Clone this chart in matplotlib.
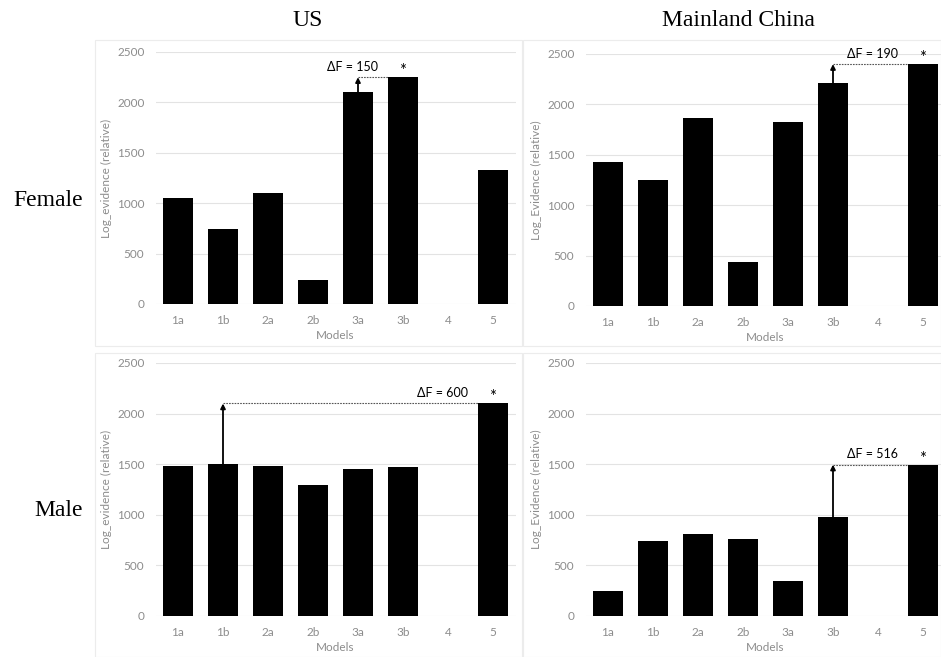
import matplotlib
matplotlib.use('Agg')
import matplotlib.pyplot as plt
from matplotlib.patches import Rectangle

# model labels on every x axis
models = ['1a', '1b', '2a', '2b', '3a', '3b', '4', '5']

# log evidence per model (model 4 has no bar)
us_female = [1050, 740, 1100, 240, 2100, 2250, 0, 1330]
china_female = [1430, 1250, 1870, 440, 1830, 2210, 0, 2400]
us_male = [1480, 1500, 1480, 1290, 1450, 1475, 0, 2100]
china_male = [250, 740, 810, 760, 350, 980, 0, 1496]

# (runner-up model, winning model) for each delta-F marker
us_female_pair = ('3a', '3b')
china_female_pair = ('3b', '5')
us_male_pair = ('1b', '5')
china_male_pair = ('3b', '5')

col_titles = ['US', 'Mainland China']
row_titles = ['Female', 'Male']

W, H = 941, 657
plt.rcParams['font.family'] = ['Lato', 'DejaVu Sans']

fig = plt.figure(figsize=(W / 100, H / 100), dpi=100)


def px_box(x0, y_top, x1, y_bot):
    # pixel box (from top-left) -> figure fraction rect
    return [x0 / W, 1 - y_bot / H, (x1 - x0) / W, (y_bot - y_top) / H]


# light frames around each chart area
for fx0, fy0, fx1, fy1 in [(95, 40, 522, 346), (523, 40, 941, 346),
                           (95, 353, 522, 657), (523, 353, 941, 657)]:
    fig.patches.append(Rectangle((fx0 / W, 1 - fy1 / H), (fx1 - fx0) / W, (fy1 - fy0) / H,
                                 transform=fig.transFigure, fill=False,
                                 edgecolor='#ececec', lw=0.8))

panels = [
    (us_female, us_female_pair, 'Log_evidence (relative)', px_box(155.5, 52, 515.5, 304), 112),
    (china_female, china_female_pair, 'Log_Evidence (relative)', px_box(585.5, 54, 945.5, 306), 542),
    (us_male, us_male_pair, 'Log_evidence (relative)', px_box(155.5, 363, 515.5, 616), 112),
    (china_male, china_male_pair, 'Log_Evidence (relative)', px_box(585.5, 363, 945.5, 616), 542),
]

grey = '#8c8c8c'
bw = 0.68

for vals, pair, ylab, rect, ylab_x in panels:
    ax = fig.add_axes(rect)
    idx = list(range(len(models)))
    ax.bar(idx, vals, width=bw, color='black', zorder=3)
    ax.set_xlim(-0.5, len(models) - 0.5)
    ax.set_ylim(0, 2500)
    ax.set_yticks(range(0, 2501, 500))
    ax.set_xticks(idx)
    ax.set_xticklabels(models)
    ax.grid(axis='y', color='#e3e3e3', lw=0.8, zorder=0)
    ax.set_axisbelow(True)
    for s in ax.spines.values():
        s.set_visible(False)
    ax.tick_params(length=0, labelsize=8.5, colors=grey, pad=8)
    ax.set_xlabel('Models', fontsize=8.5, color=grey, labelpad=3)
    ax.set_ylabel(ylab, fontsize=8.5, color=grey)
    ax.yaxis.set_label_coords((ylab_x - rect[0] * W) / (rect[2] * W), 0.5)

    lo, hi = models.index(pair[0]), models.index(pair[1])
    target = vals[hi]
    ax.plot([lo, hi - bw / 2], [target, target], color='#555555', lw=0.8,
            ls=(0, (1.5, 1)), zorder=4)
    ax.annotate('', xy=(lo, target), xytext=(lo, vals[lo]),
                arrowprops=dict(arrowstyle='-|>', color='black', lw=1.3,
                                mutation_scale=7, shrinkA=0, shrinkB=0), zorder=5)
    ax.text(hi - 1.13, target + 100, '\u0394F = %d' % (target - vals[lo]),
            fontsize=9, ha='center', va='center', color='black')
    ax.text(hi, target + 60, '*', fontsize=12, ha='center', va='center',
            color='black')

serif = 'Liberation Serif'
fig.text(308 / W, 1 - 20 / H, col_titles[0], fontsize=17, family=serif, ha='center', va='center')
fig.text(738 / W, 1 - 20 / H, col_titles[1], fontsize=17, family=serif, ha='center', va='center')
fig.text(83 / W, 1 - 200 / H, row_titles[0], fontsize=17, family=serif, ha='right', va='center')
fig.text(83 / W, 1 - 510 / H, row_titles[1], fontsize=17, family=serif, ha='right', va='center')

fig.savefig('out.png', dpi=100)
